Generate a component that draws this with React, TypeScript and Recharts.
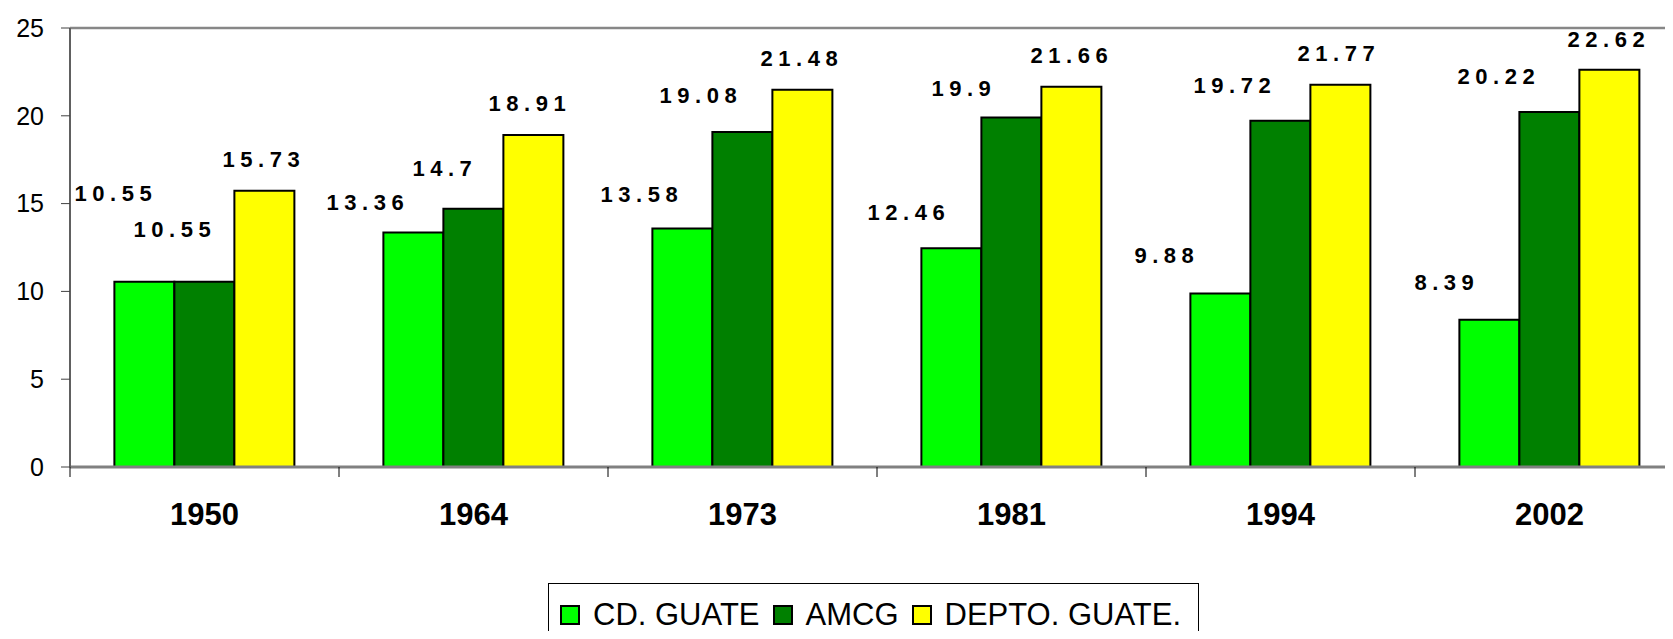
import {
  BarChart,
  Bar,
  XAxis,
  YAxis,
  Legend,
  LabelList,
  ReferenceLine,
} from "recharts";

const YEARS = ["1950", "1964", "1973", "1981", "1994", "2002"];
const CD_GUATE = [10.55, 13.36, 13.58, 12.46, 9.88, 8.39];
const AMCG = [10.55, 14.7, 19.08, 19.9, 19.72, 20.22];
const DEPTO_GUATE = [15.73, 18.91, 21.48, 21.66, 21.77, 22.62];
const Y_TICKS = [0, 5, 10, 15, 20, 25];

const SERIES = [
  { key: "cd", name: "CD. GUATE", color: "#00ff00" },
  { key: "amcg", name: "AMCG", color: "#008000" },
  { key: "depto", name: "DEPTO. GUATE.", color: "#ffff00" },
];

// label placement, relative to the top centre of each bar (the labels sit up and to the left)
const LABEL_NUDGE: Record<string, number[][]> = {
  cd: [[-31, -88], [-48, -30], [-43, -34], [-45, -36], [-56, -38], [-45, -37]],
  amcg: [[-32, -52], [-31, -40], [-44, -36], [-50, -29], [-48, -35], [-53, -35]],
  depto: [[-3, -31], [-6, -31], [-3, -31], [-2, -31], [-4, -31], [-3, -30]],
};

const FONT = "'Liberation Sans', Arial, sans-serif";
const CHART_W = 1700;
const CHART_H = 639;
const MARGIN = { top: 28, right: 16, bottom: 112, left: 0 };
const Y_AXIS_W = 70;
const BAND = (CHART_W - MARGIN.left - MARGIN.right - Y_AXIS_W) / YEARS.length;

const chartData = YEARS.map((year, i) => ({
  year,
  cd: CD_GUATE[i],
  amcg: AMCG[i],
  depto: DEPTO_GUATE[i],
}));

const makeValueLabel = (key: string) => (props: any) => {
  const { x, y, width, value, index } = props;
  const [dx, dy] = LABEL_NUDGE[key][index] || [0, -30];
  return (
    <text
      x={Number(x) + Number(width) / 2 + dx + 2.5}
      y={Number(y) + dy}
      textAnchor="middle"
      dominantBaseline="central"
      fontFamily={FONT}
      fontWeight="bold"
      fontSize={22}
      letterSpacing={5.5}
      fill="#000"
    >
      {value}
    </text>
  );
};

const YearTick = ({ x, y, payload }: any) => {
  const edge = x - BAND / 2;
  return (
    <g>
      <line x1={edge} x2={edge} y1={y} y2={y + 10} stroke="#000" strokeWidth={1} />
      <text
        x={x}
        y={y + 47}
        dy="0.36em"
        textAnchor="middle"
        fontFamily={FONT}
        fontWeight="bold"
        fontSize={31}
        fill="#000"
      >
        {payload.value}
      </text>
    </g>
  );
};

const LegendBox = () => (
  <div
    style={{
      width: 651,
      height: 70,
      boxSizing: "border-box",
      border: "1px solid #000",
      background: "#fff",
      display: "flex",
      alignItems: "flex-start",
      paddingLeft: 11,
      paddingTop: 19,
      fontFamily: FONT,
      fontSize: 31,
      lineHeight: "24px",
      color: "#000",
    }}
  >
    {SERIES.map((s) => (
      <div key={s.key} style={{ display: "flex", alignItems: "center", marginRight: 13 }}>
        <span
          style={{
            display: "inline-block",
            width: 20,
            height: 20,
            boxSizing: "border-box",
            border: "2px solid #000",
            background: s.color,
            marginRight: 13,
          }}
        />
        <span>{s.name}</span>
      </div>
    ))}
  </div>
);

const App = () => {
  return (
    <div
      style={{
        margin: -8,
        width: 1673,
        height: 639,
        overflow: "hidden",
        background: "#fff",
        position: "relative",
      }}
    >
      <BarChart
        width={CHART_W}
        height={CHART_H}
        data={chartData}
        margin={MARGIN}
        barCategoryGap="16.5%"
        barGap={0}
      >
        <ReferenceLine y={25} stroke="#878787" strokeWidth={2.5} />
        <XAxis
          dataKey="year"
          height={60}
          tickSize={0}
          tickMargin={0}
          tickLine={false}
          axisLine={{ stroke: "#808080", strokeWidth: 3 }}
          tick={<YearTick />}
          interval={0}
        />
        <YAxis
          width={Y_AXIS_W}
          domain={[0, 25]}
          ticks={Y_TICKS}
          interval={0}
          tickSize={9}
          tickMargin={17}
          tickLine={{ stroke: "#404040", strokeWidth: 1 }}
          axisLine={{ stroke: "#606060", strokeWidth: 2 }}
          tick={{ fill: "#000", fontFamily: FONT, fontSize: 25 }}
        />
        <Legend
          layout="horizontal"
          verticalAlign="middle"
          align="center"
          content={<LegendBox />}
          wrapperStyle={{ position: "absolute", left: 548, top: 583, width: 651 }}
        />
        {SERIES.map((s) => (
          <Bar
            key={s.key}
            dataKey={s.key}
            name={s.name}
            fill={s.color}
            stroke="#000"
            strokeWidth={2}
            isAnimationActive={false}
          >
            <LabelList dataKey={s.key} content={makeValueLabel(s.key)} />
          </Bar>
        ))}
      </BarChart>
    </div>
  );
};

export default App;
